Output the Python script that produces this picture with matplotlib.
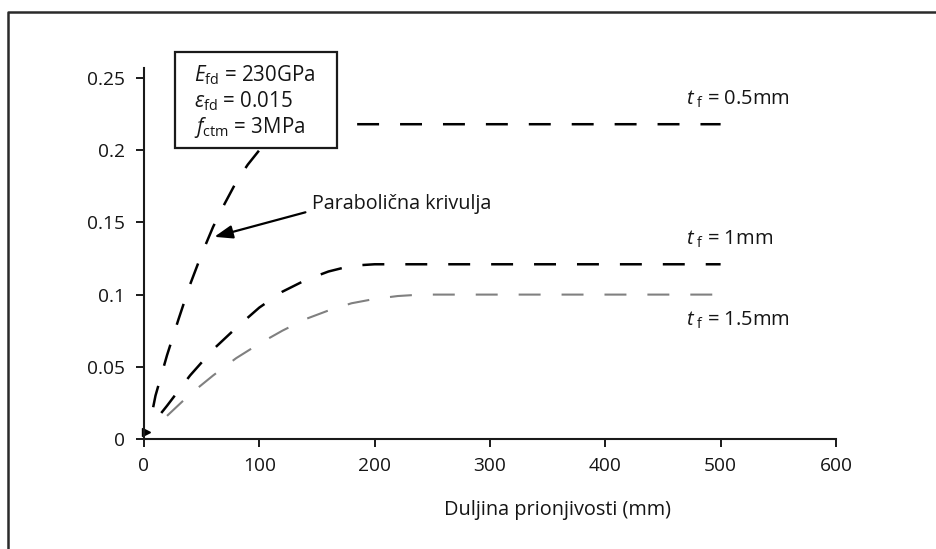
import matplotlib
matplotlib.use("Agg")
import matplotlib.pyplot as plt
from matplotlib.lines import Line2D
from matplotlib.patches import Rectangle

# ---------------------------
# Data
# ---------------------------
x_05 = [8, 10, 20, 30, 40, 50, 60, 70, 80, 90, 100, 110, 120, 130, 140, 500]
y_05 = [0.022, 0.030, 0.058, 0.083, 0.107, 0.128, 0.147, 0.163, 0.178, 0.190,
        0.200, 0.208, 0.213, 0.217, 0.218, 0.218]

x_10 = [15, 20, 40, 60, 80, 100, 120, 140, 160, 180, 200, 500]
y_10 = [0.018, 0.023, 0.044, 0.062, 0.077, 0.091, 0.102, 0.110, 0.116, 0.120, 0.121, 0.121]

x_15 = [20, 40, 60, 80, 100, 120, 140, 160, 180, 200, 220, 240, 500]
y_15 = [0.016, 0.031, 0.044, 0.056, 0.066, 0.075, 0.083, 0.089, 0.094, 0.097,
        0.099, 0.100, 0.100]

x_ticks = [0, 100, 200, 300, 400, 500, 600]
y_ticks = [0, 0.05, 0.1, 0.15, 0.2, 0.25]
y_ticklabels = ["0", "0.05", "0.1", "0.15", "0.2", "0.25"]

box_lines = [r"$E_{\mathrm{fd}}$ = 230GPa",
             r"$\varepsilon_{\mathrm{fd}}$ = 0.015",
             r"$f_{\mathrm{ctm}}$ = 3MPa"]
curve_labels = [r"$t_{\ \mathrm{f}}$ = 0.5mm", r"$t_{\ \mathrm{f}}$ = 1mm",
                r"$t_{\ \mathrm{f}}$ = 1.5mm"]

plt.rcParams["font.family"] = ["Open Sans", "DejaVu Sans"]
plt.rcParams["mathtext.fontset"] = "custom"
plt.rcParams["mathtext.rm"] = "Open Sans"
plt.rcParams["mathtext.it"] = "Open Sans:italic"
plt.rcParams["lines.scale_dashes"] = False

txt = "#151515"

fig = plt.figure(figsize=(9.36, 5.49), dpi=100)
ax = fig.add_axes([0.1538, 0.2004, 0.7393, 0.6759])

dash = (0, (15.8, 15.1))
ax.plot(x_05, y_05, color="black", lw=1.8, linestyle=dash, zorder=2)
ax.plot(x_10, y_10, color="black", lw=1.8, linestyle=dash, zorder=2)
ax.plot(x_15, y_15, color="#808080", lw=1.5, linestyle=dash, zorder=2)

# little arrow head at the origin
ax.plot([2], [0.005], marker=">", color="black", markersize=6, clip_on=False)

ax.set_xlim(0, 600)
ax.set_ylim(0, 0.257)
ax.set_xticks(x_ticks)
ax.set_yticks(y_ticks)
ax.set_yticklabels(y_ticklabels)
for s in ["top", "right"]:
    ax.spines[s].set_visible(False)
for s in ["left", "bottom"]:
    ax.spines[s].set_linewidth(1.5)
    ax.spines[s].set_color("#1a1a1a")
ax.tick_params(direction="out", length=6, width=1.4, labelsize=13.8,
               labelcolor=txt, color="#1a1a1a")
ax.tick_params(axis="x", pad=7)
ax.tick_params(axis="y", pad=8)

ax.set_xlabel("Duljina prionjivosti (mm)", fontsize=14.3, color=txt)
ax.xaxis.set_label_coords(0.598, -0.165)

# labels at the right
label_y = [0.2355, 0.1385, 0.0825]
for lab, yy in zip(curve_labels, label_y):
    ax.text(470, yy, lab, fontsize=14.5, color=txt, va="center", ha="left")

# parameter box
fig.patches.append(Rectangle((175 / 936, 1 - 148 / 549), 162 / 936, 96 / 549,
                             transform=fig.transFigure, facecolor="white",
                             edgecolor="#1a1a1a", lw=1.6, zorder=5))
for i, line in enumerate(box_lines):
    fig.text(194 / 936, 1 - (75 + 26 * i) / 549, line, fontsize=14.8, color=txt,
             va="center", ha="left", zorder=6)

# parabolic curve annotation
ax.text(146, 0.163, "Parabolična krivulja", fontsize=14.2, color=txt,
        va="center", ha="left")
ax.annotate("", xy=(61, 0.140), xytext=(140, 0.157),
            arrowprops=dict(arrowstyle="-|>,head_length=1.1,head_width=0.4",
                            color="black", lw=1.6, shrinkA=0, shrinkB=0))

# outer frame
fig.add_artist(Line2D([8 / 936, 8 / 936, 1], [0, 1 - 12 / 549, 1 - 12 / 549],
                      transform=fig.transFigure, color="#2a2a2a", lw=1.8))

fig.savefig("out.png", dpi=100)
